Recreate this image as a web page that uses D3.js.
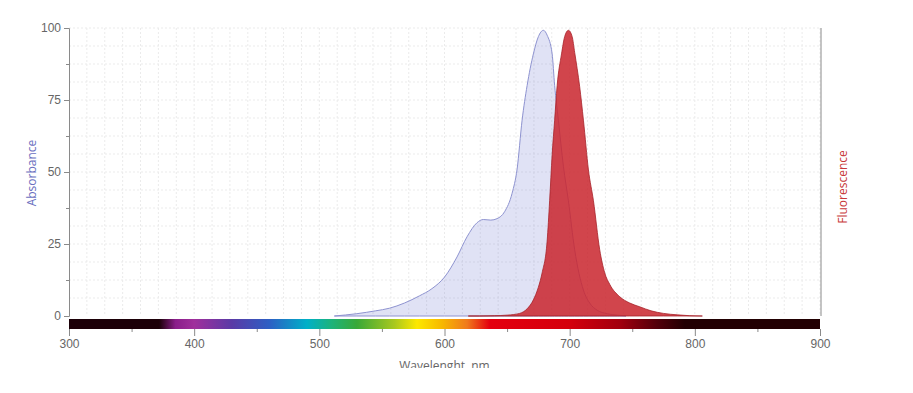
<!DOCTYPE html>
<html>
<head>
<meta charset="utf-8">
<script src="https://cdn.jsdelivr.net/npm/d3@7"></script>
<style>
  body { margin: 0; background: #fff; }
  svg { display: block; font-family: "Open Sans", sans-serif; }
  .grid line { stroke: #ebebeb; stroke-dasharray: 2,2; }
  .axis text { fill: #666; font-size: 12px; }
  .axis path, .axis line { stroke: #8a8a8a; }
</style>
</head>
<body>
<svg id="chart" width="913" height="368"></svg>
<script>
// ---- data ----
const absWl  = [512, 530, 545, 556, 568, 580, 590, 600, 610, 618, 626, 631, 637, 642, 648, 654, 658, 662, 666, 671, 675, 679, 682, 686, 688, 691, 695, 699, 704, 711, 716, 722, 730, 738, 745];
const absVal = [0, 0.8, 1.8, 2.7, 4.5, 7, 9.5, 13.5, 20.5, 27.5, 32.4, 33.5, 33.3, 33.8, 36.2, 42.6, 51, 68, 80, 91, 97, 99.2, 97.5, 91, 80, 68, 52, 40, 23, 9, 4.5, 2, 0.8, 0.3, 0];

const flWl  = [619, 628, 640, 650, 660, 666, 671, 675, 678, 682, 684, 686, 688, 690, 693.5, 696, 699, 702, 704, 708, 711, 715, 719, 724, 728, 732, 740, 748, 756, 765, 775, 786, 796, 806];
const flVal = [0, 0, 0.1, 0.3, 0.9, 2.5, 5.6, 10, 15, 26, 40, 56, 68, 80, 91, 97, 99.2, 97, 91.5, 79.6, 68, 50.7, 40, 23, 15, 11, 6.7, 4.5, 3.2, 1.8, 0.9, 0.4, 0.1, 0];

const yTicks = [0, 25, 50, 75, 100];
const xTicks = [300, 400, 500, 600, 700, 800, 900];

// visible spectrum stops (wavelength, colour)
const specWl  = [300, 372, 385, 400, 430, 460, 490, 510, 530, 560, 578, 598, 618, 636, 700, 740, 770, 792, 900];
const specCol = ["#1c0008", "#1c0008", "#8a1e8a", "#a0309c", "#5a3aa6", "#2d5fc4", "#00b0c8", "#1db37a", "#39a838", "#a9c81e", "#fde800", "#f7b800", "#f07a1c", "#e4000f", "#d4000c", "#a2000e", "#52000a", "#220002", "#220002"];

// ---- layout ----
const svg = d3.select("#chart");
const x = d3.scaleLinear().domain([300, 900]).range([69, 820]);
const y = d3.scaleLinear().domain([0, 100]).range([316, 28]);

// grid
const grid = svg.append("g").attr("class", "grid");
grid.selectAll(".gx").data(d3.range(1, 43).map(i => 300 + i * 600 / 42))
  .enter().append("line")
  .attr("x1", d => x(d)).attr("x2", d => x(d))
  .attr("y1", y(100)).attr("y2", y(0));
grid.selectAll(".gy").data(d3.range(1, 17).map(i => i * 6.25))
  .enter().append("line")
  .attr("x1", x(300)).attr("x2", x(900))
  .attr("y1", d => y(d)).attr("y2", d => y(d));

// spectrum bar
const grad = svg.append("defs").append("linearGradient")
  .attr("id", "spec").attr("x1", "0%").attr("x2", "100%");
specWl.forEach((w, i) => {
  grad.append("stop")
    .attr("offset", ((w - 300) / 600 * 100) + "%")
    .attr("stop-color", specCol[i]);
});
svg.append("rect")
  .attr("x", x(300)).attr("y", 319)
  .attr("width", x(900) - x(300)).attr("height", 10)
  .attr("fill", "url(#spec)");

// curves
const area = d3.area()
  .x(d => x(d[0]))
  .y0(y(0))
  .y1(d => y(d[1]))
  .curve(d3.curveMonotoneX);

svg.append("path")
  .datum(absWl.map((w, i) => [w, absVal[i]]))
  .attr("d", area)
  .attr("fill", "rgb(100,110,205)")
  .attr("fill-opacity", 0.2)
  .attr("stroke", "#8e93d0")
  .attr("stroke-width", 1);

svg.append("path")
  .datum(flWl.map((w, i) => [w, flVal[i]]))
  .attr("d", area)
  .attr("fill", "#c9262e")
  .attr("fill-opacity", 0.86)
  .attr("stroke", "#a8232a")
  .attr("stroke-opacity", 0.8)
  .attr("stroke-width", 1);

// left axis
svg.append("g").attr("class", "axis")
  .attr("transform", `translate(${x(300)},0)`)
  .call(d3.axisLeft(y).tickValues(yTicks).tickSize(5).tickPadding(3));
svg.append("g").attr("class", "axis")
  .attr("transform", `translate(${x(300)},0)`)
  .call(d3.axisLeft(y).tickValues([12.5, 37.5, 62.5, 87.5]).tickSize(3).tickFormat(""))
  .call(g => g.select(".domain").remove());

// right axis line
svg.append("line")
  .attr("x1", x(900) + 1).attr("x2", x(900) + 1)
  .attr("y1", y(100)).attr("y2", y(0))
  .attr("stroke", "#8a8a8a");

// bottom axis under the spectrum bar
svg.append("g").attr("class", "axis")
  .attr("transform", "translate(0,329)")
  .call(d3.axisBottom(x).tickValues(xTicks).tickSize(7).tickPadding(3).tickFormat(d3.format("d")))
  .call(g => g.select(".domain").remove());
svg.append("g").attr("class", "axis")
  .attr("transform", "translate(0,329)")
  .call(d3.axisBottom(x).tickValues([350, 450, 550, 650, 750, 850]).tickSize(3).tickFormat(""))
  .call(g => g.select(".domain").remove());

// titles
svg.append("text")
  .attr("transform", `translate(36,${173}) rotate(-90)`)
  .attr("text-anchor", "middle")
  .attr("fill", "#6a6fc0")
  .style("font-size", "12px")
  .text("Absorbance");

svg.append("text")
  .attr("transform", `translate(847,${187}) rotate(-90)`)
  .attr("text-anchor", "middle")
  .attr("fill", "#c8383a")
  .style("font-size", "12px")
  .text("Fluorescence");

// the reference cuts this title at the bottom edge of the chart area
svg.append("text")
  .attr("x", (x(300) + x(900)) / 2)
  .attr("y", 370)
  .attr("text-anchor", "middle")
  .attr("fill", "#666")
  .style("font-size", "12px")
  .text("Wavelenght, nm");
</script>
</body>
</html>
